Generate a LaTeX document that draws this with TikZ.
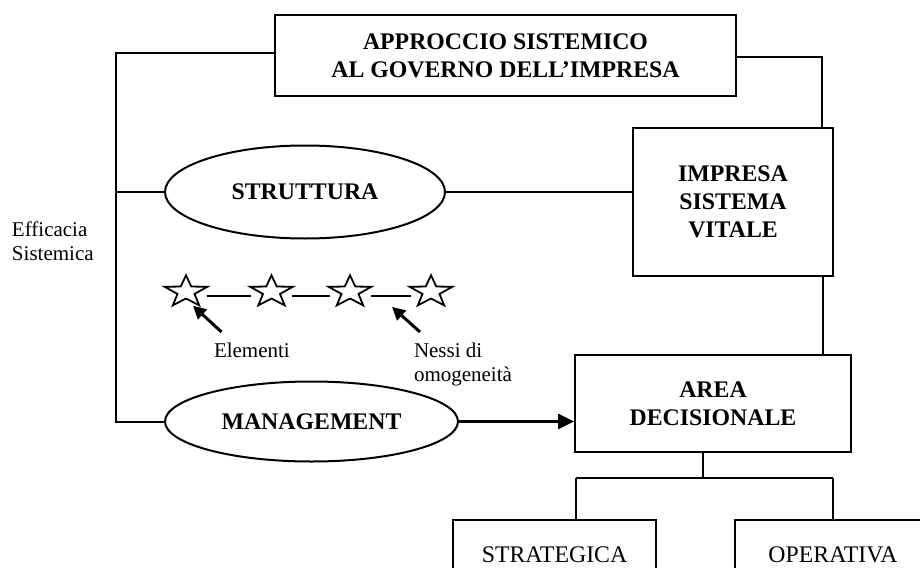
\documentclass[tikz,border=0pt]{standalone}
\usepackage{fontspec}
\setmainfont{Liberation Serif}
\usetikzlibrary{shapes.geometric,arrows.meta}
\begin{document}
\begin{tikzpicture}[x=1pt,y=-1pt,
  line width=2pt,
  box/.style={draw, rectangle, inner sep=0pt, align=center,
    font=\bfseries\fontsize{23.8}{28}\selectfont},
  oval/.style={draw, ellipse, inner sep=0pt,
    font=\bfseries\fontsize{23.8}{28}\selectfont},
  leaf/.style={draw, rectangle, inner sep=0pt,
    font=\fontsize{23.8}{28}\selectfont},
  note/.style={inner sep=0pt, align=left, font=\fontsize{21}{24}\selectfont},
  elem/.style={draw, star, star points=5, star point ratio=2.5,
    minimum size=33.2pt, inner sep=0pt, xscale=1.35, line width=1.8pt},
  link/.style={line width=2pt},
  bond/.style={line width=1.8pt},
  pointer/.style={line width=3pt, -{Triangle[length=13pt,width=13pt]}},
  flow/.style={line width=2.8pt, -{Triangle[length=16pt,width=15pt]}}
]
% page and white background
\useasboundingbox (0,0) rectangle (920,567);
\fill[white] (0,0) rectangle (920,567);
\clip (0,0) rectangle (920,567);

% boxes
\node[box, minimum width=461pt, minimum height=81pt] (top) at (505.5,55.5)
  {APPROCCIO SISTEMICO\\AL GOVERNO DELL’IMPRESA};
\node[box, minimum width=200pt, minimum height=148pt] (impresa) at (733,202)
  {IMPRESA\\SISTEMA\\VITALE};
\node[box, minimum width=276pt, minimum height=97pt] (area) at (713,403.5)
  {AREA\\DECISIONALE};
\node[leaf, minimum width=203pt, minimum height=70pt] (strat) at (554.5,555)
  {STRATEGICA};
\node[leaf, minimum width=196pt, minimum height=70pt] (oper) at (833,555)
  {OPERATIVA};

% ellipses
\node[oval, minimum width=280pt, minimum height=93pt] (struct) at (305,192)
  {STRUTTURA};
\node[oval, minimum width=293pt, minimum height=80pt] (mgmt) at (311.5,421.5)
  {MANAGEMENT};

% side labels
\node[note, anchor=west] (eff) at (11,241.4) {Efficacia\\Sistemica};
\node[note, anchor=base west] (elab) at (213,357) {Elementi};
\node[note, anchor=west] (nlab) at (413,364.6) {Nessi di\\omogeneità};

% elements and their links
\node[elem] (s1) at (186,291.9) {};
\node[elem] (s2) at (271.5,291.9) {};
\node[elem] (s3) at (350,291.9) {};
\node[elem] (s4) at (431,291.9) {};
\draw[bond] ([shift={(20.5,4.4)}]s1.center) -- ([shift={(-20.5,4.4)}]s2.center);
\draw[bond] ([shift={(20.5,4.4)}]s2.center) -- ([shift={(-20.5,4.4)}]s3.center);
\draw[bond] ([shift={(20.5,4.4)}]s3.center) -- ([shift={(-20.5,4.4)}]s4.center);

% pointers from the labels
\coordinate (etail) at (221.5,332);
\coordinate (ntail) at (420,332);
\draw[pointer] (etail) -- ([shift={(7,13.8)}]s1.center);
\draw[pointer] (ntail) -- ([shift={(-39,15)}]s4.center);

% left spine
\coordinate (lt) at (116,52.7);
\coordinate (lb) at (116,421.5);
\draw[link] ([yshift=2.8pt]top.west) -- (lt) -- (lb) -- (mgmt.west);
\draw[link] (struct.west -| lt) -- (struct.west);

% right side
\draw[link] ([yshift=-1.5pt]top.east) -| ([xshift=89pt]impresa.north);
\draw[link] (struct.east) -- (struct.east -| impresa.west);
\draw[link] ([xshift=90pt]impresa.south) -- ([xshift=110pt]area.north);
\draw[flow] (mgmt.east) -- (mgmt.east -| area.west);

% decision tree
\coordinate (fork) at (703,478);
\coordinate (fl) at (576,478);
\coordinate (fr) at (833,478);
\draw[link] ([xshift=-10pt]area.south) -- (fork);
\draw[link] (fl) -- (fr);
\draw[link] (fl) -- (fl |- strat.north);
\draw[link] (fr) -- (fr |- oper.north);
\end{tikzpicture}
\end{document}
